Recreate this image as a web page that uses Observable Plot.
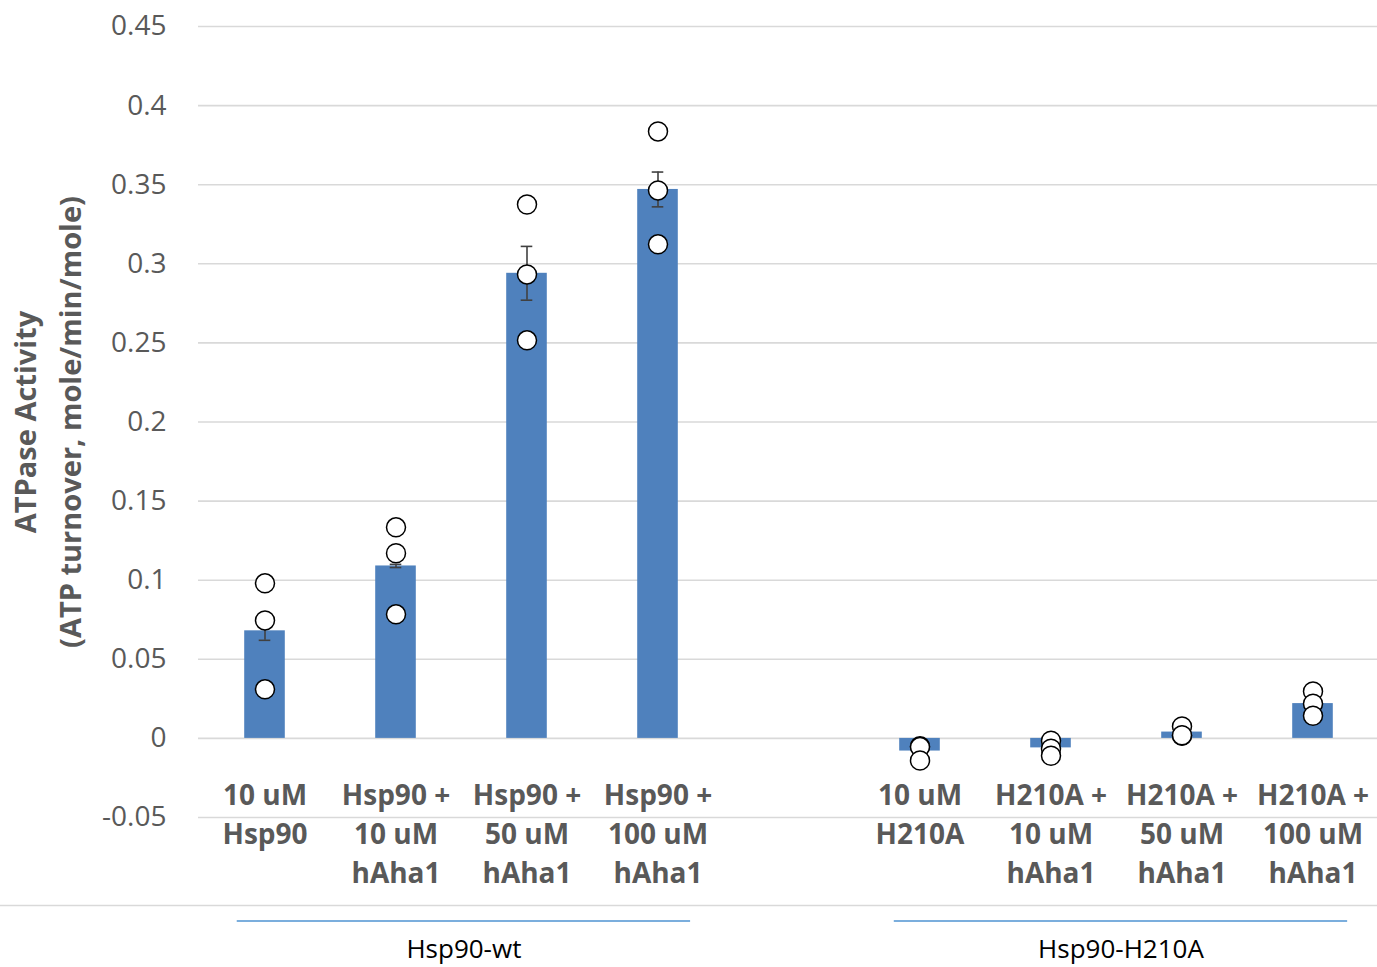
<!DOCTYPE html>
<html>
<head>
<meta charset="utf-8">
<script src="https://cdn.jsdelivr.net/npm/d3@7"></script>
<script src="https://cdn.jsdelivr.net/npm/@observablehq/plot@0.6"></script>
<style>
  html, body { margin: 0; padding: 0; background: #fff; }
  #chart svg { display: block; }
</style>
</head>
<body>
<div id="chart"></div>
<script>
// ---- data ----
const categories = [
  "10 uM\nHsp90",
  "Hsp90 +\n10 uM\nhAha1",
  "Hsp90 +\n50 uM\nhAha1",
  "Hsp90 +\n100 uM\nhAha1",
  " ",
  "10 uM\nH210A",
  "H210A +\n10 uM\nhAha1",
  "H210A +\n50 uM\nhAha1",
  "H210A +\n100 uM\nhAha1"
];
const means  = [0.068, 0.109, 0.294, 0.347, null, -0.008, -0.006, 0.004, 0.022];
const errors = [0.006, 0.001, 0.017, 0.011, null, 0, 0, 0, 0];
const rep1 = [0.098, 0.1334, 0.3375, 0.3837, null, -0.0050, -0.0015, 0.0076, 0.0297];
const rep2 = [0.0746, 0.117, 0.2933, 0.3464, null, -0.0055, -0.0065, 0.0017, 0.0219];
const rep3 = [0.031, 0.0784, 0.2516, 0.3123, null, -0.014, -0.011, 0.0020, 0.0143];
const yTicks = [-0.05, 0, 0.05, 0.1, 0.15, 0.2, 0.25, 0.3, 0.35, 0.4, 0.45];
const yTickLabels = ["-0.05", "0", "0.05", "0.1", "0.15", "0.2", "0.25", "0.3", "0.35", "0.4", "0.45"];
const groupNames = ["Hsp90-wt", "Hsp90-H210A"];
const groupFirst = [0, 5];
const groupLast = [3, 8];
const yTitle = "ATPase Activity\n(ATP turnover, mole/min/mole)";

// ---- derived tables ----
const bars = categories.map((c, i) => ({cat: c, mean: means[i], err: errors[i]})).filter(d => d.mean != null);
const points = [];
[rep1, rep2, rep3].forEach(rep => rep.forEach((v, i) => { if (v != null) points.push({cat: categories[i], v}); }));
const groups = groupNames.map((g, i) => ({name: g, first: groupFirst[i], last: groupLast[i]}));

const W = 1377;
const xRange = [197.3, 1380];
const step = (xRange[1] - xRange[0]) / categories.length;
const barInset = (step - 41) / 2;
const capInset = (step - 12) / 2;
const labelOf = new Map(yTicks.map((t, i) => [t, yTickLabels[i]]));

const main = Plot.plot({
  width: W,
  height: 903,
  marginTop: 26,
  marginBottom: 86,
  marginLeft: 198,
  marginRight: 0,
  style: {fontFamily: "'Open Sans', sans-serif", fontSize: "28px", background: "#fff"},
  x: {type: "band", domain: categories, range: xRange, padding: 0},
  y: {domain: [-0.05, 0.45]},
  marks: [
    Plot.gridY(yTicks, {stroke: "#d9d9d9", strokeOpacity: 1, strokeWidth: 1.6}),
    Plot.axisY(yTicks, {tickSize: 0, tickPadding: 32, tickFormat: d => labelOf.get(d), fill: "#595959", fontSize: 28, label: null}),
    Plot.axisX({tickSize: 0, tickPadding: 0, dy: -40, fontSize: 28, fontWeight: "bold", fill: "#595959", lineHeight: 1.39, tickFormat: d => d, label: null}),
    Plot.barY(bars, {x: "cat", y: "mean", fill: "#4F81BD", insetLeft: barInset, insetRight: barInset}),
    Plot.ruleX(bars.filter(d => d.err > 0), {x: "cat", y1: d => d.mean - d.err, y2: d => d.mean + d.err, stroke: "#404040", strokeWidth: 1.6}),
    Plot.tickY(bars.filter(d => d.err > 0), {x: "cat", y: d => d.mean - d.err, stroke: "#404040", strokeWidth: 1.6, insetLeft: capInset, insetRight: capInset}),
    Plot.tickY(bars.filter(d => d.err > 0), {x: "cat", y: d => d.mean + d.err, stroke: "#404040", strokeWidth: 1.6, insetLeft: capInset, insetRight: capInset}),
    Plot.dot(points, {x: "cat", y: "v", r: 9.5, fill: "white", stroke: "black", strokeWidth: 1.5}),
    Plot.text([yTitle], {text: d => d, frameAnchor: "left", rotate: -90, dx: -154, fontSize: 29, fontWeight: "bold", fill: "#595959", lineHeight: 1.55, textAnchor: "middle", lineAnchor: "middle"})
  ]
});

const lineStart = d => d.first - 0.2;
const lineEnd = d => d.last + 0.25;

const bottom = Plot.plot({
  width: W,
  height: 64,
  marginTop: 2,
  marginBottom: 30,
  marginLeft: 0,
  marginRight: 0,
  style: {fontFamily: "'Open Sans', sans-serif", fontSize: "26px", background: "#fff", overflow: "visible"},
  x: {type: "linear", domain: [-0.5, categories.length - 0.5], range: xRange, axis: null},
  marks: [
    Plot.frame({anchor: "top", stroke: "#d9d9d9", strokeWidth: 1.6}),
    Plot.rect(groups, {x1: lineStart, x2: lineEnd, fill: "#5B9BD5", insetTop: 15.2, insetBottom: 15.2}),
    Plot.text(groups, {x: d => (lineStart(d) + lineEnd(d)) / 2, text: "name", frameAnchor: "bottom", dy: 12, lineAnchor: "middle", fontSize: 26, fill: "black"})
  ]
});

const chart = document.getElementById("chart");
chart.appendChild(main);
chart.appendChild(bottom);
</script>
</body>
</html>
